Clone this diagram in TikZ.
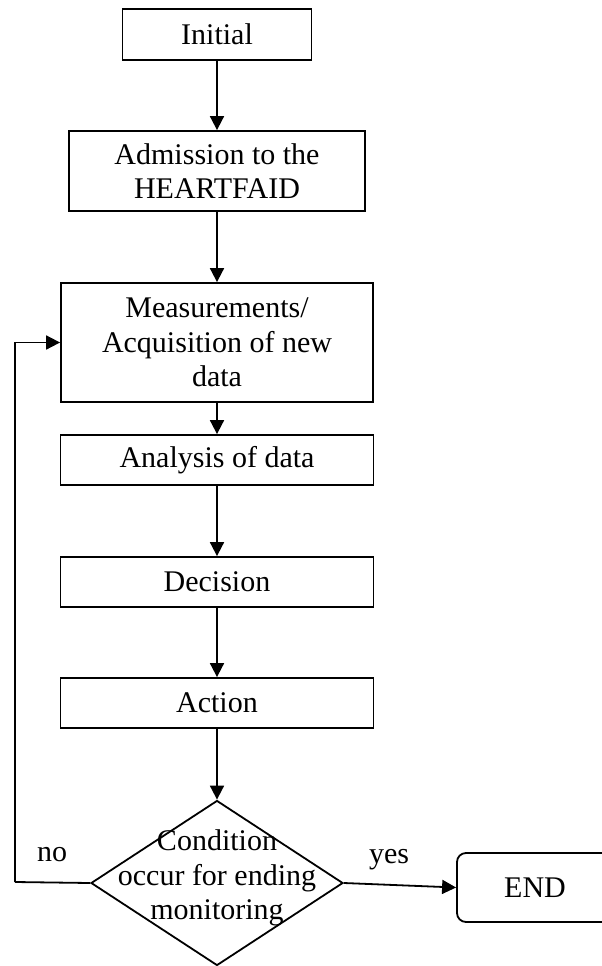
\documentclass[tikz,border=0pt]{standalone}
\usepackage{fontspec}
\setmainfont{Liberation Serif}
\usetikzlibrary{arrows.meta,shapes.geometric}

\tikzset{
  every node/.style={font=\fontsize{30}{34.5}\selectfont, align=center},
  box/.style={draw, line width=1.8pt, rectangle, inner sep=0pt},
  decisionshape/.style={draw, line width=1.8pt, diamond, inner sep=0pt},
  endbox/.style={draw, line width=1.8pt, rectangle, rounded corners=9pt, inner sep=0pt},
  flow/.style={line width=1.8pt, -{Triangle[length=14pt,width=14pt]}},
  plainline/.style={line width=1.8pt},
  txt/.style={inner sep=0pt}
}

\begin{document}
\begin{tikzpicture}[x=1pt, y=-1pt]
  \useasboundingbox (0,0) rectangle (602,966);
  \clip (0,0) rectangle (602,966);

  % process boxes
  \node[box, minimum width=189pt, minimum height=51pt] (init) at (217,34.5) {Initial};
  \node[box, minimum width=296pt, minimum height=80pt] (adm) at (217,171) {Admission to the\\HEARTFAID};
  \node[box, minimum width=312pt, minimum height=119pt] (meas) at (217,342.5) {Measurements/\\Acquisition of new\\data};
  \node[box, minimum width=313pt, minimum height=50pt] (ana) at (217,460) {Analysis of data};
  \node[box, minimum width=313pt, minimum height=50pt] (decis) at (217,582) {Decision};
  \node[box, minimum width=313pt, minimum height=50pt] (act) at (217,703) {Action};

  % end-of-monitoring test
  \node[decisionshape, minimum width=252pt, minimum height=165pt] (cond) at (217,883) {};
  \node[txt] (condtext) at (217,878) {Condition\\occur for ending\\monitoring};

  % terminal box, running off the right edge
  \node[endbox, minimum width=160pt, minimum height=69pt] (fin) at (537,887.5) {};
  \node[txt] (fintext) at (535,888) {END};

  % main flow
  \draw[flow] (init) -- (adm);
  \draw[flow] (adm) -- (meas);
  \draw[flow] (meas) -- (ana);
  \draw[flow] (ana) -- (decis);
  \draw[flow] (decis) -- (act);
  \draw[flow] (act) -- (cond);
  \draw[flow] (cond.east) -- (fin.west);

  % loop back for a new acquisition
  \coordinate (loopcorner) at (15,882);
  \draw[plainline] (cond.west) -- (loopcorner);
  \draw[flow] (loopcorner) |- (meas.west);

  % branch labels
  \node[txt] (nolabel) at (52,855) {no};
  \node[txt] (yeslabel) at (389,860) {yes};
\end{tikzpicture}
\end{document}
